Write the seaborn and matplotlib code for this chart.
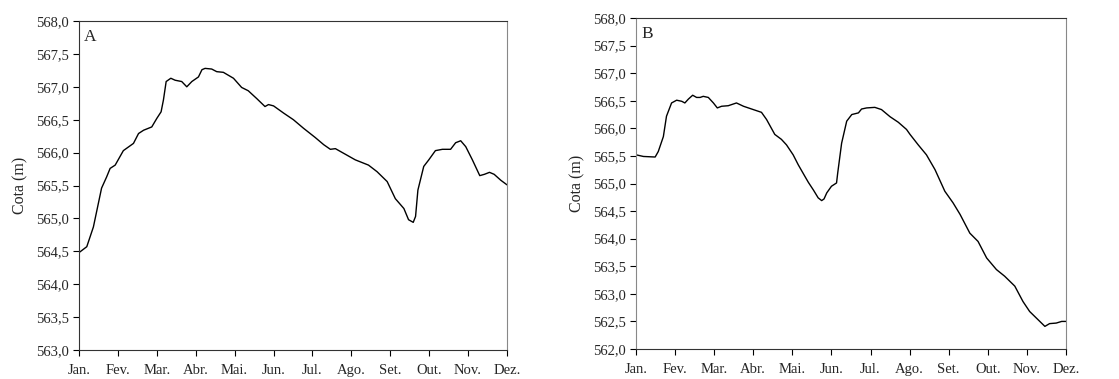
import numpy as np
import pandas as pd
import matplotlib
matplotlib.use("Agg")
import matplotlib.pyplot as plt
from matplotlib.ticker import FuncFormatter, MultipleLocator
import seaborn as sns

# Month labels (x axis runs from January to December, one unit per month)
months = ["Jan.", "Fev.", "Mar.", "Abr.", "Mai.", "Jun.", "Jul.", "Ago.",
          "Set.", "Out.", "Nov.", "Dez."]

# Reservoir level, panel A: time in months since January, water level (m)
a_time = [0.00, 0.20, 0.37, 0.58, 0.71, 0.80, 0.93, 1.14, 1.40, 1.53, 1.66,
          1.87, 2.00, 2.11, 2.17, 2.24, 2.36, 2.47, 2.64, 2.77, 2.90, 3.07,
          3.16, 3.24, 3.41, 3.54, 3.71, 3.97, 4.18, 4.35, 4.57, 4.78, 4.87,
          5.00, 5.26, 5.51, 5.77, 6.07, 6.29, 6.46, 6.59, 6.89, 7.10, 7.27,
          7.44, 7.66, 7.92, 8.13, 8.35, 8.47, 8.59, 8.65, 8.71, 8.86, 8.99,
          9.16, 9.34, 9.55, 9.68, 9.81, 9.94, 10.11, 10.30, 10.42, 10.55,
          10.67, 10.84, 11.00]
a_level = [564.48, 564.57, 564.87, 565.46, 565.63, 565.76, 565.81, 566.03,
           566.14, 566.29, 566.34, 566.39, 566.52, 566.62, 566.80, 567.08,
           567.13, 567.10, 567.08, 567.00, 567.08, 567.15, 567.26, 567.28,
           567.27, 567.23, 567.22, 567.13, 566.99, 566.94, 566.82, 566.70,
           566.73, 566.71, 566.60, 566.50, 566.37, 566.23, 566.12, 566.05,
           566.06, 565.96, 565.89, 565.85, 565.81, 565.71, 565.56, 565.30,
           565.15, 564.98, 564.94, 565.03, 565.43, 565.79, 565.89, 566.03,
           566.05, 566.05, 566.15, 566.18, 566.09, 565.89, 565.65, 565.67,
           565.70, 565.67, 565.58, 565.51]

# Reservoir level, panel B
b_time = [0.00, 0.19, 0.49, 0.57, 0.70, 0.78, 0.91, 1.04, 1.17, 1.25, 1.34,
          1.45, 1.55, 1.64, 1.72, 1.85, 1.98, 2.08, 2.19, 2.36, 2.57, 2.75,
          3.00, 3.21, 3.34, 3.55, 3.72, 3.85, 4.02, 4.15, 4.32, 4.41, 4.54,
          4.66, 4.75, 4.81, 4.88, 5.00, 5.13, 5.16, 5.26, 5.39, 5.52, 5.69,
          5.77, 5.90, 6.11, 6.28, 6.50, 6.71, 6.92, 7.01, 7.22, 7.43, 7.65,
          7.90, 8.11, 8.29, 8.54, 8.75, 8.97, 9.22, 9.43, 9.69, 9.90, 10.07,
          10.33, 10.46, 10.58, 10.75, 10.89, 11.00]
b_level = [565.52, 565.49, 565.48, 565.58, 565.85, 566.22, 566.46, 566.51,
           566.49, 566.46, 566.53, 566.60, 566.56, 566.56, 566.58, 566.56,
           566.46, 566.37, 566.40, 566.41, 566.46, 566.40, 566.34, 566.29,
           566.16, 565.89, 565.80, 565.70, 565.52, 565.34, 565.13, 565.02,
           564.88, 564.74, 564.69, 564.72, 564.83, 564.95, 565.01, 565.19,
           565.73, 566.13, 566.25, 566.28, 566.35, 566.37, 566.38, 566.34,
           566.21, 566.11, 565.98, 565.89, 565.70, 565.52, 565.25, 564.86,
           564.65, 564.44, 564.10, 563.95, 563.65, 563.44, 563.32, 563.14,
           562.86, 562.68, 562.50, 562.41, 562.46, 562.47, 562.50, 562.50]

sns.set_theme(style="ticks")
plt.rcParams["font.family"] = ["Liberation Serif", "DejaVu Serif"]
plt.rcParams["font.size"] = 10.5

fig = plt.figure(figsize=(11.19, 3.79), dpi=100)
ax_a = fig.add_axes([79 / 1119, 1 - 350 / 379, (507 - 79) / 1119, (350 - 21) / 379])
ax_b = fig.add_axes([636 / 1119, 1 - 349 / 379, (1066 - 636) / 1119, (349 - 18) / 379])

comma = FuncFormatter(lambda v, _: f"{v:.1f}".replace(".", ","))

panels = [
    (ax_a, a_time, a_level, "A", (563.0, 568.0)),
    (ax_b, b_time, b_level, "B", (562.0, 568.0)),
]
for ax, t, lvl, tag, ylim in panels:
    df = pd.DataFrame({"t": t, "cota": lvl})
    sns.lineplot(data=df, x="t", y="cota", ax=ax, color="black", lw=1.0)
    ax.set_xlim(0, 11)
    ax.set_ylim(*ylim)
    ax.set_xticks(np.arange(len(months)))
    ax.set_xticklabels(months)
    ax.yaxis.set_major_locator(MultipleLocator(0.5))
    ax.yaxis.set_major_formatter(comma)
    ax.set_xlabel("")
    ax.set_ylabel("Cota (m)", fontsize=11.5, labelpad=5)
    ax.tick_params(axis="both", direction="out", length=4, width=0.8,
                   labelsize=10.5, color="black")
    ax.tick_params(axis="x", pad=6)
    for side in ["top", "right", "left", "bottom"]:
        ax.spines[side].set_visible(True)
        ax.spines[side].set_linewidth(0.8)
        ax.spines[side].set_color("#333333")
    ax.spines["right"].set_color("#888888")
    ax.text(0.012, 0.975, tag, transform=ax.transAxes, fontsize=12.5,
            ha="left", va="top")

ax_b.spines["left"].set_color("#888888")

fig.savefig("out.png", dpi=100)
